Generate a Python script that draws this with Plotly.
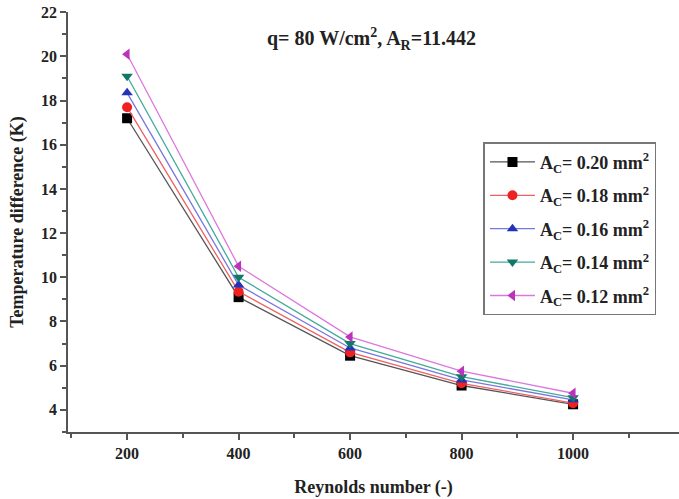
import plotly.graph_objects as go

reynolds = [200, 400, 600, 800, 1000]
series_names = ["A<sub>C</sub>= 0.20 mm<sup>2</sup>", "A<sub>C</sub>= 0.18 mm<sup>2</sup>",
                "A<sub>C</sub>= 0.16 mm<sup>2</sup>", "A<sub>C</sub>= 0.14 mm<sup>2</sup>",
                "A<sub>C</sub>= 0.12 mm<sup>2</sup>"]
dt_020 = [17.2, 9.1, 6.45, 5.1, 4.25]
dt_018 = [17.7, 9.35, 6.6, 5.2, 4.3]
dt_016 = [18.35, 9.65, 6.8, 5.35, 4.45]
dt_014 = [19.1, 10.0, 7.0, 5.5, 4.55]
dt_012 = [20.1, 10.5, 7.3, 5.75, 4.75]
values = [dt_020, dt_018, dt_016, dt_014, dt_012]
y_ticks = [4, 6, 8, 10, 12, 14, 16, 18, 20, 22]

marker_colors = ["#000000", "#ee2222", "#2233bb", "#117766", "#bb33bb"]
line_colors = ["#555555", "#f06060", "#7777dd", "#44aa99", "#dd77dd"]
symbols = ["square", "circle", "triangle-up", "triangle-down", "triangle-left"]

font_family = "Liberation Serif"

fig = go.Figure()
for i, (name, vals, mc, lc, sym) in enumerate(zip(series_names, values, marker_colors, line_colors, symbols)):
    fig.add_trace(go.Scatter(
        x=reynolds, y=vals, name="<b>" + name + "</b>", mode="lines+markers",
        legendgroup=f"g{i}",
        line=dict(color=lc, width=1.3),
        marker=dict(symbol=sym, size=10, color=mc),
    ))

fig.update_layout(
    width=679, height=499,
    margin=dict(l=68, r=0, t=12, b=67),
    paper_bgcolor="white", plot_bgcolor="white",
    font=dict(family=font_family, color="#222222"),
    showlegend=True,
    legend=dict(
        x=0.68, y=0.69, xanchor="left", yanchor="top",
        bordercolor="#777777", borderwidth=1.5, bgcolor="white",
        font=dict(family=font_family, size=18, color="#222222"),
        tracegroupgap=7, itemwidth=45,
    ),
    xaxis=dict(
        range=[94, 1190], showgrid=False, zeroline=False, automargin=False,
        showline=True, linecolor="#555555", linewidth=1.5,
        ticks="outside", ticklen=6, tickcolor="#555555", tickwidth=1.5,
        tickvals=reynolds, ticktext=[f"<b>{v}</b>" for v in reynolds],
        tickfont=dict(family=font_family, size=16, color="#222222"),
        minor=dict(ticks="outside", ticklen=4, tickcolor="#555555", dtick=100, tick0=0),
        title=dict(text="<b>Reynolds number (-)</b>", standoff=19,
                   font=dict(family=font_family, size=18, color="#222222")),
    ),
    yaxis=dict(
        range=[2.995, 22.01], showgrid=False, zeroline=False, automargin=False,
        showline=True, linecolor="#555555", linewidth=1.5,
        ticks="outside", ticklen=6, tickcolor="#555555", tickwidth=1.5,
        tickvals=y_ticks, ticktext=[f"<b>{v}</b>" for v in y_ticks],
        tickfont=dict(family=font_family, size=16, color="#222222"),
        ticklabeloverflow="allow",
        minor=dict(ticks="outside", ticklen=4, tickcolor="#555555", dtick=1, tick0=0),
        title=dict(text="<b>Temperature difference (K)</b>", standoff=13,
                   font=dict(family=font_family, size=18, color="#222222")),
    ),
)

fig.add_annotation(
    text="<b>q= 80 W/cm<sup>2</sup>, A<sub>R</sub>=11.442</b>",
    xref="paper", yref="paper", x=0.497, y=0.935, xanchor="center", yanchor="middle",
    showarrow=False, font=dict(family=font_family, size=20, color="#222222"),
)

fig.write_html("out.html", config={"displayModeBar": False},
               post_script="document.body.style.margin='0px';")
